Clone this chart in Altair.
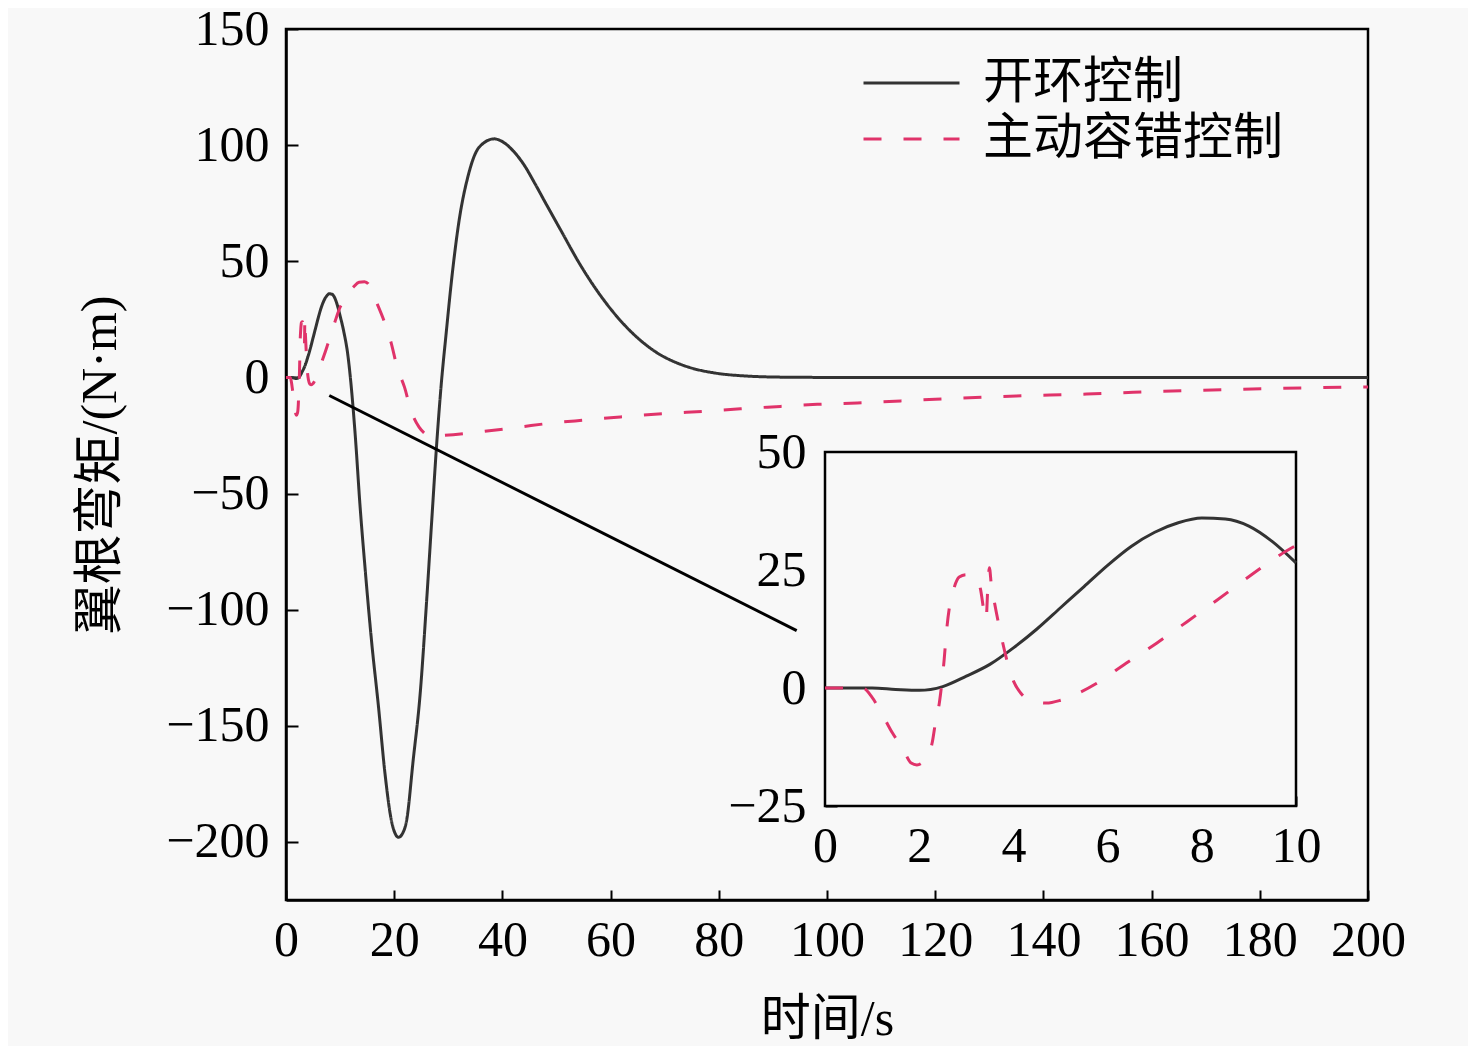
import altair as alt
import pandas as pd

# ---------------- data ----------------
SERIES = ["开环控制", "主动容错控制"]

OPEN_T = [0, 1, 1.5, 2, 2.5, 3, 3.5, 4, 4.5, 5, 5.5, 6, 6.5, 7, 7.5, 8, 8.5, 9, 9.5, 10,
          10.7, 11.4, 12.0, 12.8, 13.7, 14.6, 15.8, 17.1, 18.3, 19.5, 20.2, 20.8, 21.5,
          22.3, 23.5, 24.8, 26.0, 26.9, 27.9, 28.65, 29.6, 30.8, 32.0, 33.6, 35.7, 38.5,
          40.0, 42.0, 44.0, 46.0, 48.0, 51.0, 54.0, 57.0, 60.0, 63.0, 66.0, 69.0, 72.0,
          75.0, 79.0, 85.0, 92.0, 100, 130, 160, 200]
OPEN_M = [0, 0, -0.3, -0.5, 0.3, 2.5, 5, 8.5, 12.5, 17, 21.5, 26, 30, 33, 35, 36,
          35.8, 34.3, 31, 26.5, 19.5, 10.2, -2.5, -25, -55.8, -81.7, -113.2, -141.9,
          -170.6, -191, -196.5, -198, -196.5, -190.7, -165, -136.2, -96, -63, -27.1,
          -4.2, 18.9, 46, 67.6, 86.2, 99.1, 102.7, 101.5, 97.5, 91.5, 83.5, 75.0, 62.5,
          50.0, 39.0, 29.5, 21.5, 15.0, 10.0, 6.5, 4.0, 2.0, 0.6, 0.1, 0, 0, 0, 0]

FT_T = [0, 0.8, 1.0, 1.2, 1.43, 1.65, 1.83, 1.95, 2.1, 2.2, 2.28, 2.35, 2.43, 2.48,
        2.53, 2.58, 2.64, 2.72, 2.85, 3.0, 3.2, 3.3, 3.38, 3.42, 3.46, 3.49, 3.53,
        3.6, 3.72, 3.9, 4.0, 4.15, 4.4, 4.7, 5.0, 5.4, 5.77, 6.4, 7.04, 7.68, 8.32,
        8.96, 9.66, 10.0, 10.5, 11.1, 12.5, 13.5, 14.5, 15.2, 16.6, 18.2, 19.4, 20.6,
        21.9, 23.1, 24.6, 25.6, 26.5, 29.0, 35.7, 43.1, 49.3, 55.6, 61.8, 69.8, 77.9,
        84.0, 91.4, 98.2, 105.6, 120, 135, 148, 156.6, 176.3, 200]
FT_M = [0, 0, -2, -5.3, -9.5, -12.8, -15.9, -16.3, -15.5, -14.2, -11.4, -7, -3, 1, 6,
        12, 17, 20.5, 23.5, 24, 23.3, 21, 16, 14.5, 22, 25.5, 22, 18, 12, 4.5, 1.5, -1,
        -2.8, -3.2, -2.6, -1, 1, 5.3, 9.5, 14, 18.6, 23.3, 28.2, 30.2, 32.5, 35, 39,
        41, 41.2, 40.3, 33, 23.8, 15.2, 3.9, -4.2, -14.2, -21.4, -24, -25.3, -25,
        -23.5, -21.4, -19.6, -18.3, -17.0, -15.6, -14.5, -13.5, -12.5, -11.6, -11,
        -9.4, -8.0, -7.2, -6.4, -5.1, -4.1]

# zoom connector (from the main curve to the inset)
LINK_T = [8.0, 94.4]
LINK_M = [-7.8, -109.0]

X_TICKS = [0, 20, 40, 60, 80, 100, 120, 140, 160, 180, 200]
Y_TICKS = [150, 100, 50, 0, -50, -100, -150, -200]
X_DOMAIN = [0, 200]
Y_DOMAIN = [-225, 150]

INSET_X_TICKS = [0, 2, 4, 6, 8, 10]
INSET_Y_TICKS = [-25, 0, 25, 50]
INSET_X_DOMAIN = [0, 10]
INSET_Y_DOMAIN = [-25, 50]

# ---------------- styling ----------------
FONT = "Liberation Serif, Noto Sans CJK SC"
BG = "#f8f8f8"
SOLID = "#333333"
DASH = "#e0336a"
DASH_PATTERN = [18, 22]
W, H = 1082, 871
INSET_XR = [539, 1010]
INSET_YR = [777, 423]

df = pd.concat([
    pd.DataFrame({"t": OPEN_T, "m": OPEN_M, "series": SERIES[0]}),
    pd.DataFrame({"t": FT_T, "m": FT_M, "series": SERIES[1]}),
], ignore_index=True)
link_df = pd.DataFrame({"t": LINK_T, "m": LINK_M})
box_df = pd.DataFrame({"t": [INSET_X_DOMAIN[0]], "t2": [INSET_X_DOMAIN[1]],
                       "m": [INSET_Y_DOMAIN[0]], "m2": [INSET_Y_DOMAIN[1]]})

xs = alt.Scale(domain=X_DOMAIN, nice=False, zero=False)
ys = alt.Scale(domain=Y_DOMAIN, nice=False, zero=False)
xs_in = alt.Scale(domain=INSET_X_DOMAIN, range=INSET_XR, nice=False, zero=False)
ys_in = alt.Scale(domain=INSET_Y_DOMAIN, range=INSET_YR, nice=False, zero=False)

label_style = dict(labelFont=FONT, labelFontSize=50, labelColor="black",
                   titleFont=FONT, titleFontSize=50, titleColor="black",
                   titleFontWeight="normal", grid=False,
                   labelOverlap=False, labelFlush=False, labelBound=False)

main_x_axis = alt.Axis(values=X_TICKS, orient="bottom", ticks=False, tickSize=0,
                       labelPadding=15, title="时间/s", titlePadding=29,
                       domainColor="black", domainWidth=2.5, **label_style)
main_y_axis = alt.Axis(values=Y_TICKS, orient="left", ticks=False, tickSize=0,
                       labelPadding=17, title="翼根弯矩/(N·m)", titlePadding=40,
                       domainColor="black", domainWidth=2.5, **label_style)

leg = alt.Legend(orient="none", legendX=576, legendY=29, title=None,
                 symbolType="stroke", symbolSize=9216, symbolStrokeWidth=3,
                 labelFont=FONT, labelFontSize=50, labelColor="black", labelLimit=0,
                 labelOffset=22, rowPadding=6, padding=0, clipHeight=50)

main_lines = alt.Chart(df).mark_line(strokeWidth=3, interpolate="monotone").encode(
    x=alt.X("t:Q", scale=xs, axis=main_x_axis),
    y=alt.Y("m:Q", scale=ys, axis=main_y_axis),
    color=alt.Color("series:N", scale=alt.Scale(domain=SERIES, range=[SOLID, DASH]), legend=leg),
    strokeDash=alt.StrokeDash("series:N", scale=alt.Scale(domain=SERIES, range=[[1, 0], DASH_PATTERN]), legend=leg),
)
link = alt.Chart(link_df).mark_line(color="black", strokeWidth=3).encode(
    x=alt.X("t:Q", scale=xs, axis=main_x_axis),
    y=alt.Y("m:Q", scale=ys, axis=main_y_axis),
)
main = alt.layer(main_lines, link)

tick_style = dict(labels=False, domain=False, ticks=True, tickColor="black",
                  tickWidth=2, grid=False, title=None, labelOverlap=False)
main_ticks = alt.Chart(link_df).mark_line(opacity=0).encode(
    x=alt.X("t:Q", scale=xs, axis=alt.Axis(values=X_TICKS, orient="bottom", tickSize=10, offset=-10, **tick_style)),
    y=alt.Y("m:Q", scale=ys, axis=alt.Axis(values=Y_TICKS, orient="left", tickSize=12, offset=-12, **tick_style)),
)

in_x_axis = alt.Axis(values=INSET_X_TICKS, orient="bottom", ticks=False, tickSize=0,
                     domain=False, labelPadding=15, offset=-(H - INSET_YR[0]), title=None,
                     **label_style)
in_y_axis = alt.Axis(values=INSET_Y_TICKS, orient="left", ticks=False, tickSize=0,
                     domain=False, labelPadding=19, offset=-INSET_XR[0], title=None,
                     **label_style)

box = alt.Chart(box_df).mark_rect(fill=BG, stroke="black", strokeWidth=2.5).encode(
    x=alt.X("t:Q", scale=xs_in, axis=in_x_axis), x2="t2:Q",
    y=alt.Y("m:Q", scale=ys_in, axis=in_y_axis), y2="m2:Q",
)
in_solid = alt.Chart(df).transform_filter(
    (alt.datum.series == SERIES[0]) & (alt.datum.t <= 10)
).mark_line(color=SOLID, strokeWidth=3, interpolate="monotone").encode(
    x=alt.X("t:Q", scale=xs_in, axis=in_x_axis),
    y=alt.Y("m:Q", scale=ys_in, axis=in_y_axis),
)
in_dash = alt.Chart(df).transform_filter(
    (alt.datum.series == SERIES[1]) & (alt.datum.t <= 10)
).mark_line(color=DASH, strokeWidth=3, strokeDash=DASH_PATTERN, interpolate="monotone").encode(
    x=alt.X("t:Q", scale=xs_in, axis=in_x_axis),
    y=alt.Y("m:Q", scale=ys_in, axis=in_y_axis),
)
inset = alt.layer(box, in_solid, in_dash)

inset_ticks = alt.Chart(box_df).mark_point(opacity=0).encode(
    x=alt.X("t:Q", scale=xs_in, axis=alt.Axis(values=INSET_X_TICKS, orient="bottom", tickSize=10,
                                                 offset=-(H - INSET_YR[0]) - 10, **tick_style)),
    y=alt.Y("m:Q", scale=ys_in, axis=alt.Axis(values=INSET_Y_TICKS, orient="left", tickSize=12,
                                                 offset=-INSET_XR[0] - 12, **tick_style)),
)

chart = alt.layer(main, main_ticks, inset, inset_ticks).resolve_scale(
    x="independent", y="independent"
).properties(
    width=W, height=H,
    autosize=alt.AutoSizeParams(type="none"),
    padding={"left": 278, "top": 21, "right": 100, "bottom": 146},
    background=BG,
).configure_view(stroke="black", strokeWidth=2.5)

chart.save("out.html", embed_options={"renderer": "svg", "actions": False})
